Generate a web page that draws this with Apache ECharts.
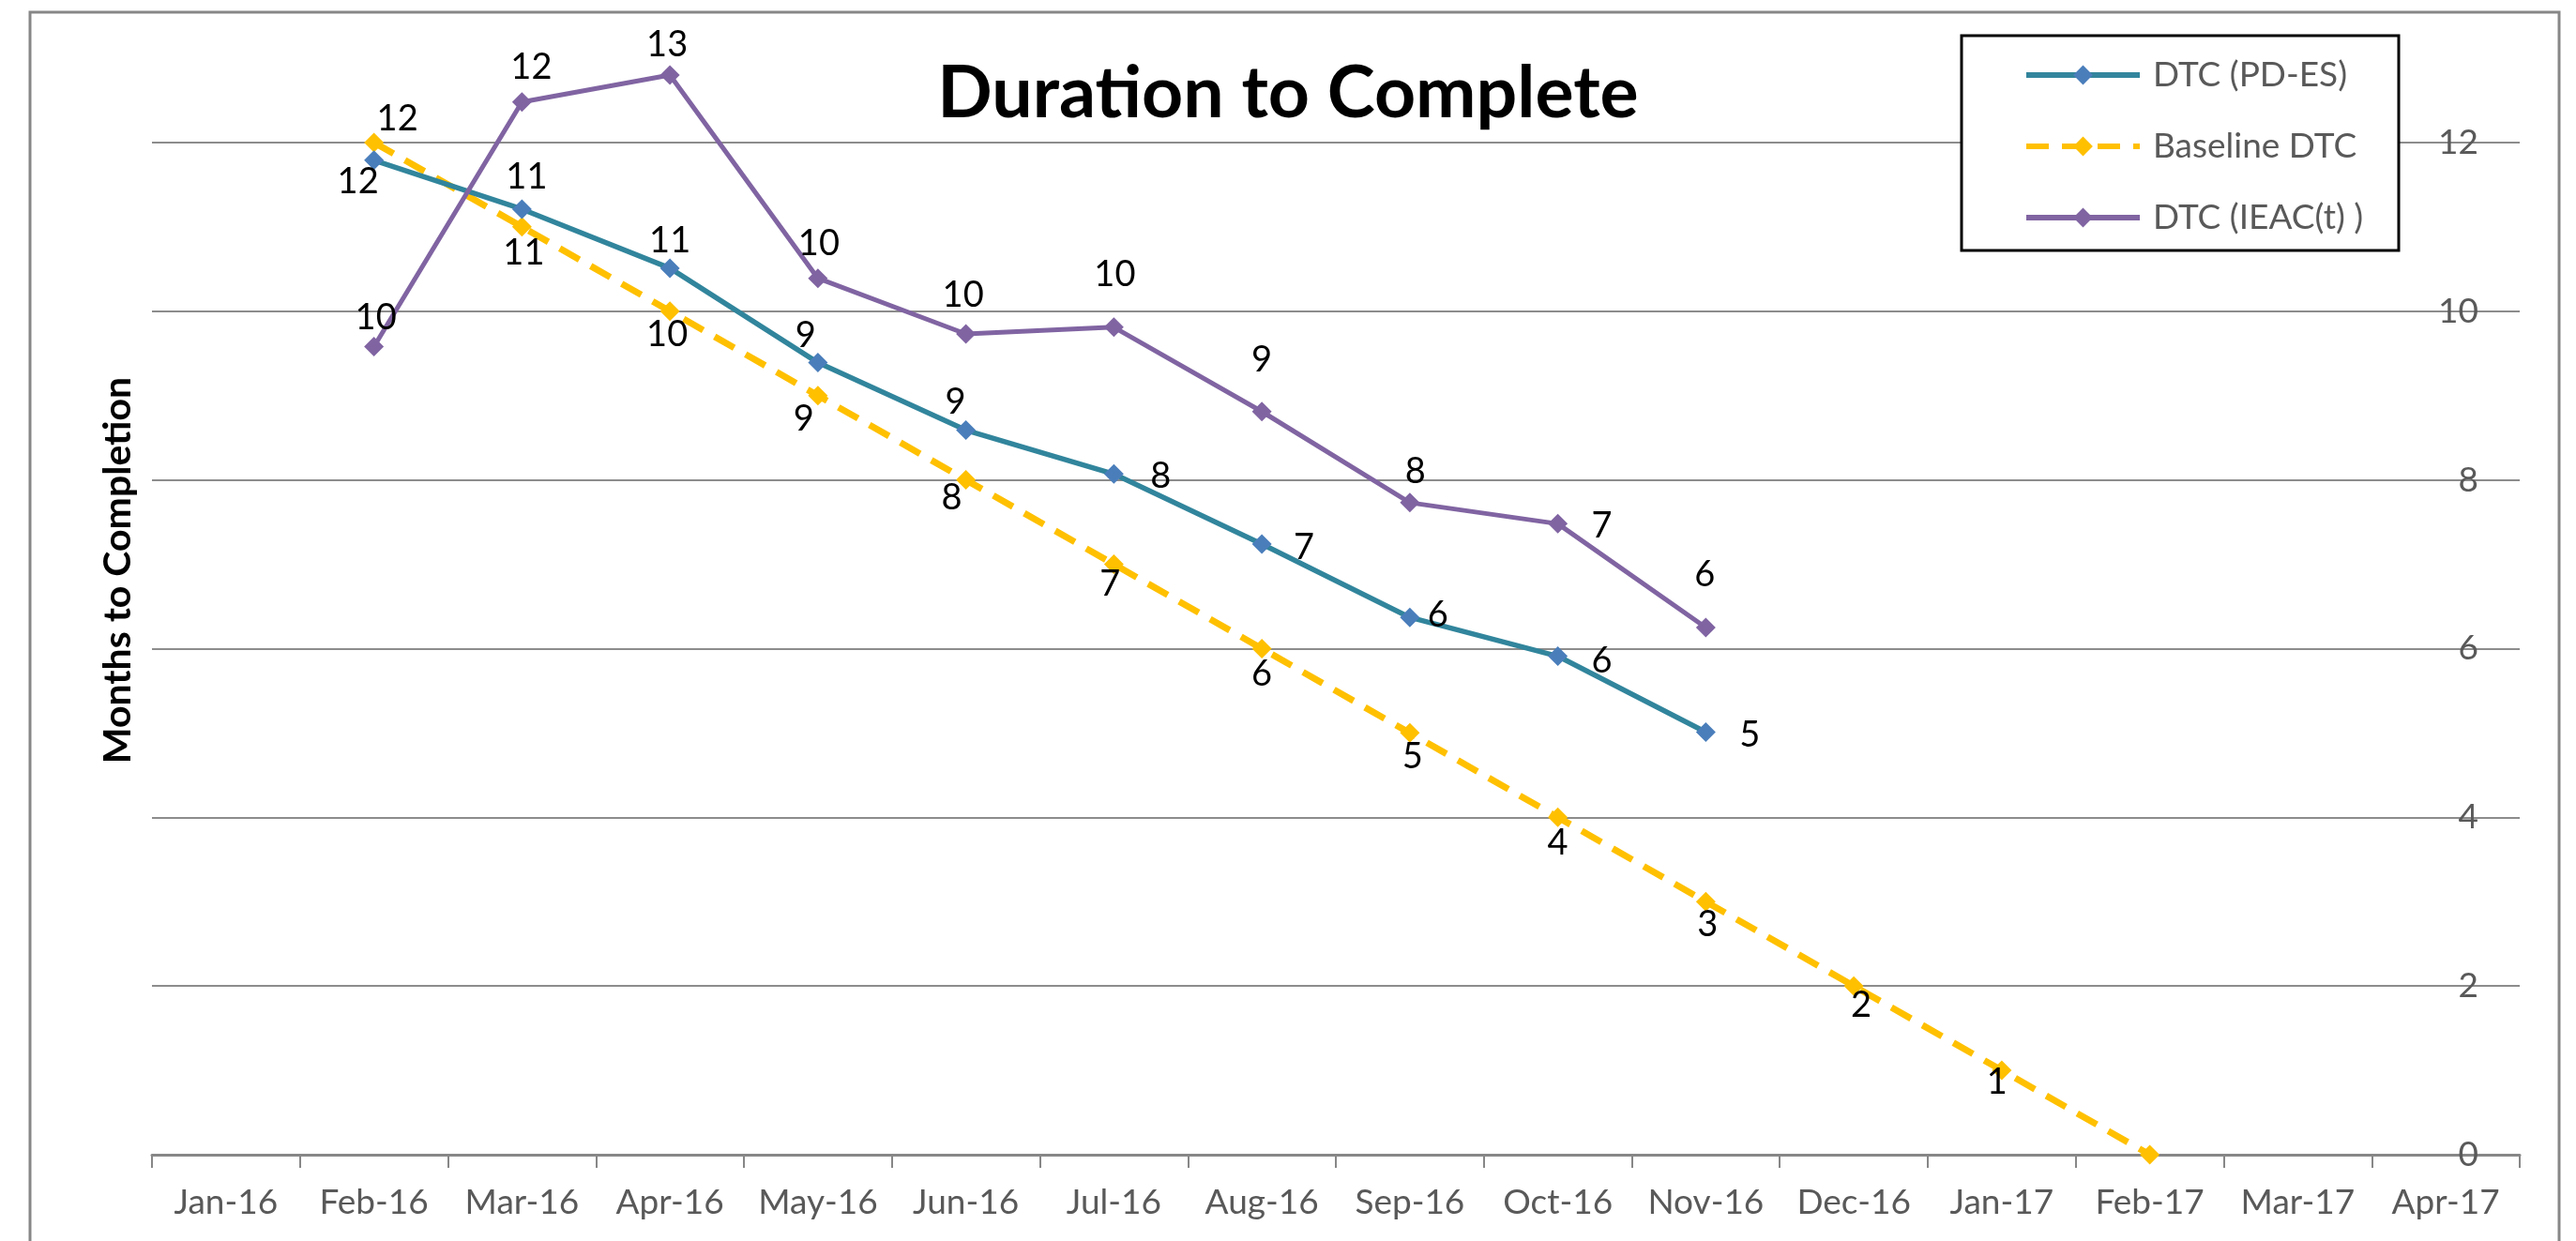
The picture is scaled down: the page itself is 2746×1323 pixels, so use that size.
<!DOCTYPE html>
<html>
<head>
<meta charset="utf-8">
<title>Duration to Complete</title>
<script src="https://cdn.jsdelivr.net/npm/echarts@6/dist/echarts.min.js"></script>
<style>
  html, body { margin: 0; padding: 0; background: #ffffff; }
  #chart { width: 2746px; height: 1323px; }
</style>
</head>
<body>
<div id="chart"></div>
<script>
// Month categories along the x axis
const months = ['Jan-16', 'Feb-16', 'Mar-16', 'Apr-16', 'May-16', 'Jun-16', 'Jul-16', 'Aug-16',
                'Sep-16', 'Oct-16', 'Nov-16', 'Dec-16', 'Jan-17', 'Feb-17', 'Mar-17', 'Apr-17'];

// Months remaining to completion, per series
const dtcPdEs      = [null, 11.79, 11.21, 10.51, 9.39, 8.59, 8.07, 7.24, 6.37, 5.91, 5.01, null, null, null, null, null];
const baselineDtc  = [null, 12, 11, 10, 9, 8, 7, 6, 5, 4, 3, 2, 1, 0, null, null];
const dtcIeac      = [null, 9.58, 12.48, 12.80, 10.39, 9.73, 9.81, 8.81, 7.73, 7.48, 6.25, null, null, null, null, null];

// Value axis: labelled ticks every 2 months, top of the plot a little above 13
const yMin = 0, yMax = 13.5, yStep = 2, yLastLabel = 12;

// Data-label placement (pixel offsets from each marker); null = no label
const pdEsLabelOffsets = [null, [-17, 23], [5, -34], [0, -29], [-13, -29], [-11, -30], [50, 2], [45, 4], [30, -2], [47, 5], [47, 3]];
const baselineLabelOffsets = [null, [25, -25], [2, 28], [-3, 25], [-15, 25], [-15, 19], [-4, 21], [0, 27], [3, 25], [0, 27], [2, 25], [8, 21], [-5, 13], null];
const ieacLabelOffsets = [null, [2, -31], [10, -37], [-3, -32], [1, -37], [-3, -41], [1, -56], [0, -55], [6, -33], [47, 2], [-1, -56]];

const FONT = 'Lato';

function withLabels(values, offsets) {
  return values.map(function (v, i) {
    if (v === null) return null;
    const off = offsets[i];
    if (!off) return { value: v, label: { show: false } };
    return { value: v, label: { show: true, offset: off } };
  });
}

const labelBase = {
  show: true,
  position: 'inside',
  color: '#000000',
  fontFamily: FONT,
  fontSize: 38,
  lineHeight: 44,
  textBorderWidth: 0,
  formatter: function (p) { return String(Math.round(p.value)); }
};

const chart = echarts.init(document.getElementById('chart'), null, { renderer: 'canvas' });

chart.setOption({
  backgroundColor: '#ffffff',
  animation: false,
  title: {
    text: 'Duration to Complete',
    left: 'center',
    top: 62,
    padding: 0,
    textStyle: { fontFamily: FONT, fontWeight: 'bold', fontSize: 77, lineHeight: 76, color: '#000000' }
  },
  legend: {
    orient: 'vertical',
    left: 2152,
    top: 53,
    itemWidth: 121,
    itemHeight: 26,
    itemGap: 32,
    z: 5,
    lineStyle: { width: 6 },
    textStyle: { fontFamily: FONT, fontSize: 37, lineHeight: 44, color: '#595959', padding: [0, 0, 0, 9] },
    data: ['DTC (PD-ES)', 'Baseline DTC', 'DTC (IEAC(t) )']
  },
  graphic: [
    {
      type: 'rect', z: 10, silent: true,
      shape: { x: 32, y: 13, width: 2696, height: 1400 },
      style: { fill: 'none', stroke: '#878787', lineWidth: 3 }
    },
    {
      type: 'rect', z: 3, silent: true,
      shape: { x: 2091, y: 38, width: 466, height: 229 },
      style: { fill: '#ffffff', stroke: '#000000', lineWidth: 3 }
    },
    {
      type: 'text', z: 3, silent: true,
      x: 126, y: 608, rotation: Math.PI / 2,
      style: {
        text: 'Months to Completion',
        fontFamily: FONT, fontWeight: 'bold', fontSize: 41,
        fill: '#000000', align: 'center', verticalAlign: 'middle'
      }
    }
  ],
  grid: { left: 162, right: 60, top: 17, bottom: 92, containLabel: false },
  xAxis: {
    type: 'category',
    data: months,
    boundaryGap: true,
    axisLine: { show: true, lineStyle: { color: '#878787', width: 3 } },
    axisTick: { show: true, interval: 0, length: 14, lineStyle: { color: '#878787', width: 2 } },
    axisLabel: { interval: 0, margin: 29, fontFamily: FONT, fontSize: 37, lineHeight: 44, color: '#595959' },
    splitLine: { show: false }
  },
  yAxis: {
    type: 'value',
    position: 'right',
    min: yMin, max: yMax, interval: yStep,
    axisLine: { show: false },
    axisTick: { show: false },
    axisLabel: {
      inside: true, margin: 44, fontFamily: FONT, fontSize: 37, color: '#595959',
      showMaxLabel: false,
      formatter: function (v) { return v > yLastLabel ? '' : String(v); }
    },
    splitLine: { show: true, showMaxLine: false, lineStyle: { color: '#8c8c8c', width: 2 } }
  },
  series: [
    {
      name: 'DTC (PD-ES)',
      type: 'line',
      data: withLabels(dtcPdEs, pdEsLabelOffsets),
      symbol: 'diamond',
      symbolSize: 21,
      z: 3,
      lineStyle: { color: '#31859C', width: 5.5 },
      itemStyle: { color: '#4A7EBB' },
      label: labelBase
    },
    {
      name: 'Baseline DTC',
      type: 'line',
      data: withLabels(baselineDtc, baselineLabelOffsets),
      symbol: 'diamond',
      symbolSize: 21,
      z: 2,
      lineStyle: { color: '#FFC000', width: 7, type: [24, 14] },
      itemStyle: { color: '#FFC000' },
      label: labelBase
    },
    {
      name: 'DTC (IEAC(t) )',
      type: 'line',
      data: withLabels(dtcIeac, ieacLabelOffsets),
      symbol: 'diamond',
      symbolSize: 21,
      z: 3,
      lineStyle: { color: '#8064A2', width: 5 },
      itemStyle: { color: '#8064A2' },
      label: labelBase
    }
  ]
});
</script>
</body>
</html>
